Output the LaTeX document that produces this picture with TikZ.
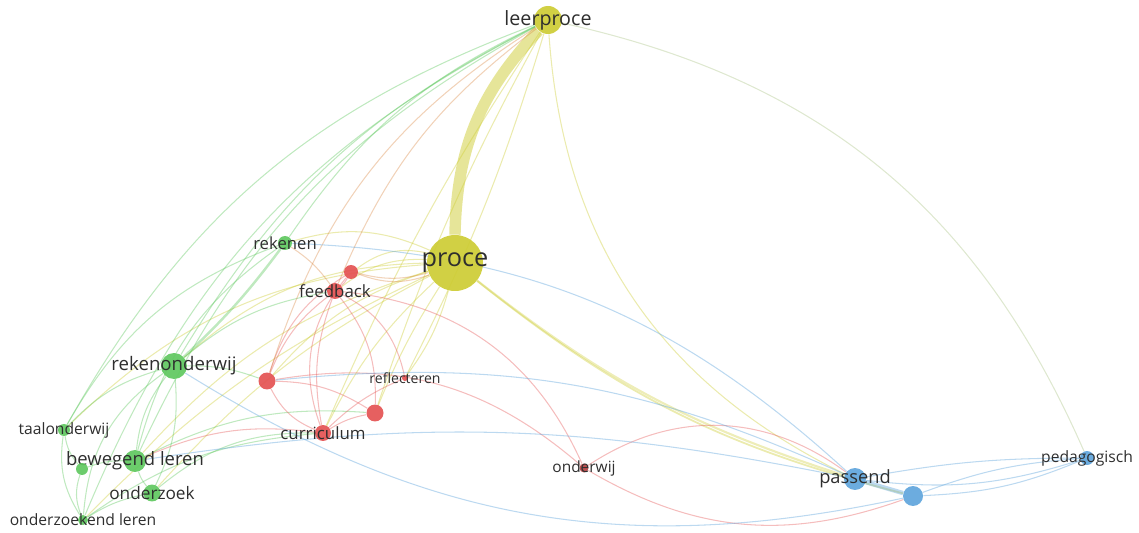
\documentclass[tikz,border=0pt]{standalone}
\usepackage{fontspec}
\setmainfont{Open Sans}
\usetikzlibrary{backgrounds}
\definecolor{yellowTerm}{RGB}{205,204,52}
\definecolor{greenTerm}{RGB}{95,200,95}
\definecolor{redTerm}{RGB}{228,82,82}
\definecolor{blueTerm}{RGB}{95,165,220}

\begin{document}
\begin{tikzpicture}[x=0.02cm, y=-0.02cm]

            \tikzstyle{term} = [circle, inner sep=0pt, fill opacity=0.92, text opacity=1];
            \tikzstyle{every label} = [inner sep=0pt, text=black!82];
            \tikzstyle{yellowEdge} = [yellowTerm, line width=0.6pt, opacity=0.4];
            \tikzstyle{greenEdge} = [greenTerm, line width=0.6pt, opacity=0.4];
            \tikzstyle{redEdge} = [redTerm, line width=0.6pt, opacity=0.38];
            \tikzstyle{orangeEdge} = [redTerm!55!yellowTerm, line width=0.6pt, opacity=0.38];
            \tikzstyle{blueEdge} = [blueTerm, line width=0.6pt, opacity=0.42];

            \useasboundingbox (0,0) rectangle (1139,533);

            % yellow cluster
            \node[term, fill=yellowTerm, minimum size=0.56cm, label={[font=\fontsize{11.2}{12}\selectfont]center:leerproce}] (leerproce) at (548,20) {};
            \node[term, fill=yellowTerm, minimum size=1.12cm, label={[font=\fontsize{14.4}{15}\selectfont]center:proce}] (proce) at (455,263) {};

            % green cluster
            \node[term, fill=greenTerm, minimum size=0.28cm, label={[font=\fontsize{9.5}{10}\selectfont]center:rekenen}] (rekenen) at (285,243) {};
            \node[term, fill=greenTerm, minimum size=0.52cm, label={[font=\fontsize{10.6}{11}\selectfont]center:rekenonderwij}] (rekenonderwij) at (174,366) {};
            \node[term, fill=greenTerm, minimum size=0.24cm, label={[font=\fontsize{8.9}{10}\selectfont]center:taalonderwij}] (taalonderwij) at (64,430) {};
            \node[term, fill=greenTerm, minimum size=0.44cm, label={[font=\fontsize{10.5}{11}\selectfont]center:bewegend leren}] (bewegend) at (135,461) {};
            \node[term, fill=greenTerm, minimum size=0.24cm] (greenA) at (82,469) {};
            \node[term, fill=greenTerm, minimum size=0.34cm, label={[font=\fontsize{9.8}{10}\selectfont]center:onderzoek}] (onderzoek) at (152,493) {};
            \node[term, fill=greenTerm, minimum size=0.2cm, label={[font=\fontsize{8.9}{10}\selectfont]center:onderzoekend leren}] (onderzoekend) at (83,520) {};

            % red cluster
            \node[term, fill=redTerm, minimum size=0.28cm] (redA) at (351,272) {};
            \node[term, fill=redTerm, minimum size=0.32cm, label={[font=\fontsize{9.6}{10}\selectfont]center:feedback}] (feedback) at (335,291) {};
            \node[term, fill=redTerm, minimum size=0.34cm] (redB) at (267,381) {};
            \node[term, fill=redTerm, minimum size=0.12cm, label={[font=\fontsize{8}{9}\selectfont]center:reflecteren}] (reflecteren) at (405,378) {};
            \node[term, fill=redTerm, minimum size=0.34cm] (redC) at (375,413) {};
            \node[term, fill=redTerm, minimum size=0.32cm, label={[font=\fontsize{9.6}{10}\selectfont]center:curriculum}] (curriculum) at (323,433) {};
            \node[term, fill=redTerm!80!black, minimum size=0.18cm, label={[font=\fontsize{8.8}{9}\selectfont]center:onderwij}] (onderwij) at (584,468) {};

            % blue cluster
            \node[term, fill=blueTerm, minimum size=0.44cm, label={[font=\fontsize{10.4}{11}\selectfont]center:passend}] (passend) at (855,479) {};
            \node[term, fill=blueTerm, minimum size=0.4cm] (blueA) at (913,496) {};
            \node[term, fill=blueTerm, minimum size=0.28cm, label={[font=\fontsize{8.9}{10}\selectfont]center:pedagogisch}] (pedagogisch) at (1087,458) {};

            \begin{pgfonlayer}{background}
            % links
            \draw[yellowTerm, line width=6.5pt, opacity=0.5] (leerproce) to[bend right=21] (proce);
            \draw[yellowEdge, line width=1.2pt, opacity=0.35] (proce) to[bend right=10] (passend);
            \draw[yellowEdge, line width=1pt] (proce) to[bend right=12] (blueA);
            \draw[blueEdge, line width=2.5pt] (passend) -- (blueA);

            \foreach \a/\b/\c in {leerproce/passend/30, leerproce/redC/5,
                leerproce/reflecteren/-5, leerproce/curriculum/5, proce/rekenonderwij/20,
                proce/bewegend/15, proce/onderzoek/10, proce/onderzoekend/10, proce/curriculum/10,
                proce/redC/5, proce/redB/15, proce/feedback/20, proce/redA/25, proce/rekenen/20,
                proce/taalonderwij/20, proce/reflecteren/-10}
              \draw[yellowEdge] (\a) to[bend right=\c] (\b);
            \draw[yellowTerm!60!blueTerm, line width=0.6pt, opacity=0.35] (leerproce) to[bend left=27] (pedagogisch);

            \foreach \a/\b/\c in {leerproce/rekenen/15, leerproce/rekenonderwij/16, leerproce/bewegend/18,
                leerproce/onderzoekend/20, leerproce/taalonderwij/20, rekenen/bewegend/20,
                rekenen/taalonderwij/20, rekenonderwij/bewegend/15, rekenonderwij/onderzoek/-15,
                rekenonderwij/taalonderwij/15, rekenonderwij/onderzoekend/25, bewegend/onderzoek/10,
                bewegend/greenA/10, taalonderwij/greenA/15, taalonderwij/onderzoekend/20,
                onderzoek/onderzoekend/10, greenA/onderzoekend/20, rekenonderwij/redB/-10,
                rekenonderwij/feedback/-15, bewegend/redC/-15, onderzoek/curriculum/-20,
                onderzoekend/curriculum/-15}
              \draw[greenEdge] (\a) to[bend right=\c] (\b);
            \draw[greenEdge, line width=1.4pt] (rekenen) to[bend left=5] (rekenonderwij);

            \foreach \a/\b/\c in {feedback/redA/10, feedback/curriculum/15, feedback/redB/15,
                feedback/redC/-20, feedback/reflecteren/-25, feedback/onderwij/-30, redA/redB/20,
                redA/curriculum/30, redB/curriculum/20, redB/redC/-15, redB/onderwij/-25,
                redC/curriculum/10, curriculum/bewegend/15, reflecteren/curriculum/10,
                onderwij/passend/-35, onderwij/blueA/25}
              \draw[redEdge] (\a) to[bend right=\c] (\b);

            \foreach \a/\b/\c in {leerproce/feedback/15, leerproce/redB/20, proce/redA/-15,
                redA/proce/20, rekenen/feedback/-10}
              \draw[orangeEdge] (\a) to[bend right=\c] (\b);

            \foreach \a/\b/\c in {rekenen/passend/-20, rekenonderwij/blueA/22, bewegend/passend/-10,
                redB/passend/-15, passend/pedagogisch/-5,
                passend/pedagogisch/12, blueA/pedagogisch/10, blueA/pedagogisch/-8}
              \draw[blueEdge] (\a) to[bend right=\c] (\b);
            \end{pgfonlayer}
          \end{tikzpicture}
\end{document}
